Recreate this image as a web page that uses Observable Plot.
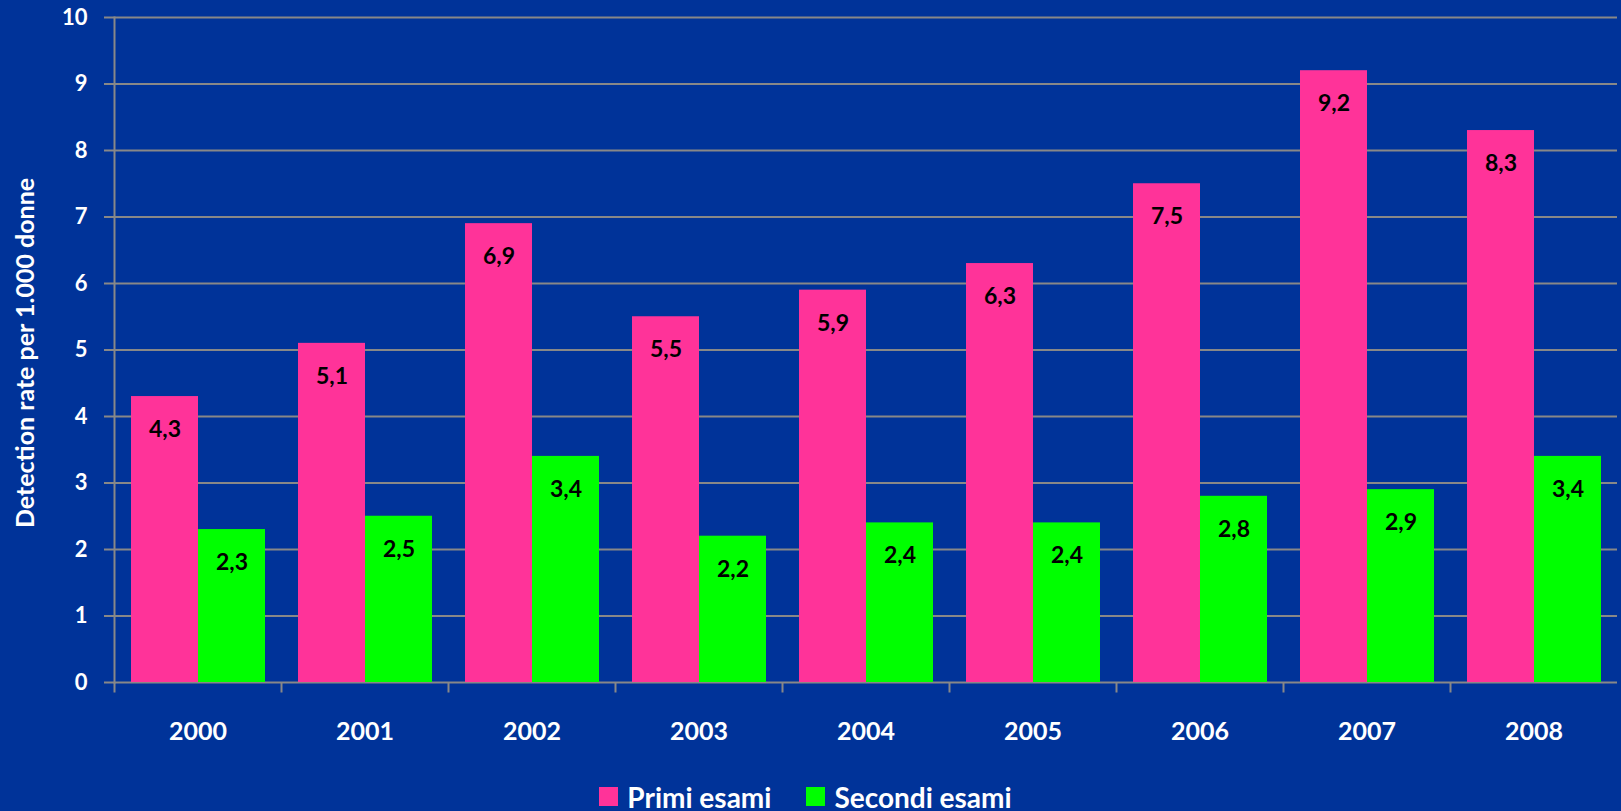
<!DOCTYPE html>
<html><head><meta charset="utf-8">
<script src="https://cdn.jsdelivr.net/npm/d3@7"></script>
<script src="https://cdn.jsdelivr.net/npm/@observablehq/plot@0.6"></script>
<style>
html,body{margin:0;padding:0;background:#003399;overflow:hidden;}
#chart svg{display:block;}
#legend{display:flex;justify-content:center;align-items:center;height:41px;padding-top:12px;padding-right:10px;box-sizing:border-box;
  font-family:Lato,sans-serif;font-weight:bold;font-size:28px;line-height:26px;color:#fff;}
.item{display:flex;align-items:center;height:26px;}
.sw{width:19px;height:19px;display:inline-block;margin-right:9px;}
</style></head>
<body><div id="chart"></div><div id="legend"></div>
<script>
const years = ["2000","2001","2002","2003","2004","2005","2006","2007","2008"];
const series = ["Primi esami","Secondi esami"];
const primi = [4.3,5.1,6.9,5.5,5.9,6.3,7.5,9.2,8.3];
const secondi = [2.3,2.5,3.4,2.2,2.4,2.4,2.8,2.9,3.4];
const yTicks = [0,1,2,3,4,5,6,7,8,9,10];
const colors = ["#ff3399","#00ff00"];
const yTitle = "Detection rate per 1.000 donne";

const data = years.flatMap((yr,i)=>[
  {year:yr, series:series[0], value:primi[i]},
  {year:yr, series:series[1], value:secondi[i]}
]);
const fmt = v => d3.format(".1f")(v).replace(".", ",");

const tickSym = {draw(ctx){ ctx.moveTo(0,0); ctx.lineTo(0,10); }};

const chart = Plot.plot({
  width:1621, height:770,
  marginTop:17, marginBottom:88, marginLeft:111, marginRight:1,
  style:{background:"#003399", color:"white", fontFamily:"Lato, sans-serif", fontWeight:"bold"},
  fx:{domain:years, padding:0, label:null},
  x:{domain:series, paddingInner:0, paddingOuter:0.233, axis:null},
  y:{domain:[0,10]},
  color:{domain:series, range:colors},
  marks:[
    Plot.ruleY(yTicks, {y:d=>d, stroke:"#888", strokeWidth:2}),
    Plot.barY(data, {fx:"year", x:"series", y:"value", fill:"series"}),
    Plot.text(data, {fx:"year", x:"series", y:"value", text:d=>fmt(d.value), dy:33,
      fill:"black", fontSize:23, fontWeight:"bold"}),
    Plot.frame({anchor:"left", facetAnchor:"left", stroke:"#888", strokeWidth:2}),
    Plot.dot([0], {frameAnchor:"bottom-left", symbol:tickSym, stroke:"#888", strokeWidth:2, fill:"none"}),
    Plot.axisY(yTicks, {tickSize:10, tickPadding:17, fontSize:22, stroke:"#888", strokeWidth:2, fill:"white", label:null, tickFormat:d=>d}),
    Plot.axisFx({anchor:"bottom", tickSize:0, tickPadding:40, fontSize:25, fill:"white", label:null}),
    Plot.text([yTitle], {text:d=>d, frameAnchor:"left", facetAnchor:"left", textAnchor:"middle", rotate:-90, dx:-89, dy:3,
      fill:"white", fontSize:25, fontWeight:"bold"})
  ]
});
document.getElementById("chart").appendChild(chart);

const legend = document.getElementById("legend");
series.forEach((s,i)=>{
  const it = document.createElement("div");
  it.className = "item";
  if (i>0) it.style.marginLeft = "35px";
  const sw = document.createElement("span");
  sw.className = "sw"; sw.style.background = colors[i];
  it.appendChild(sw);
  it.appendChild(document.createTextNode(s));
  legend.appendChild(it);
});
</script></body></html>
